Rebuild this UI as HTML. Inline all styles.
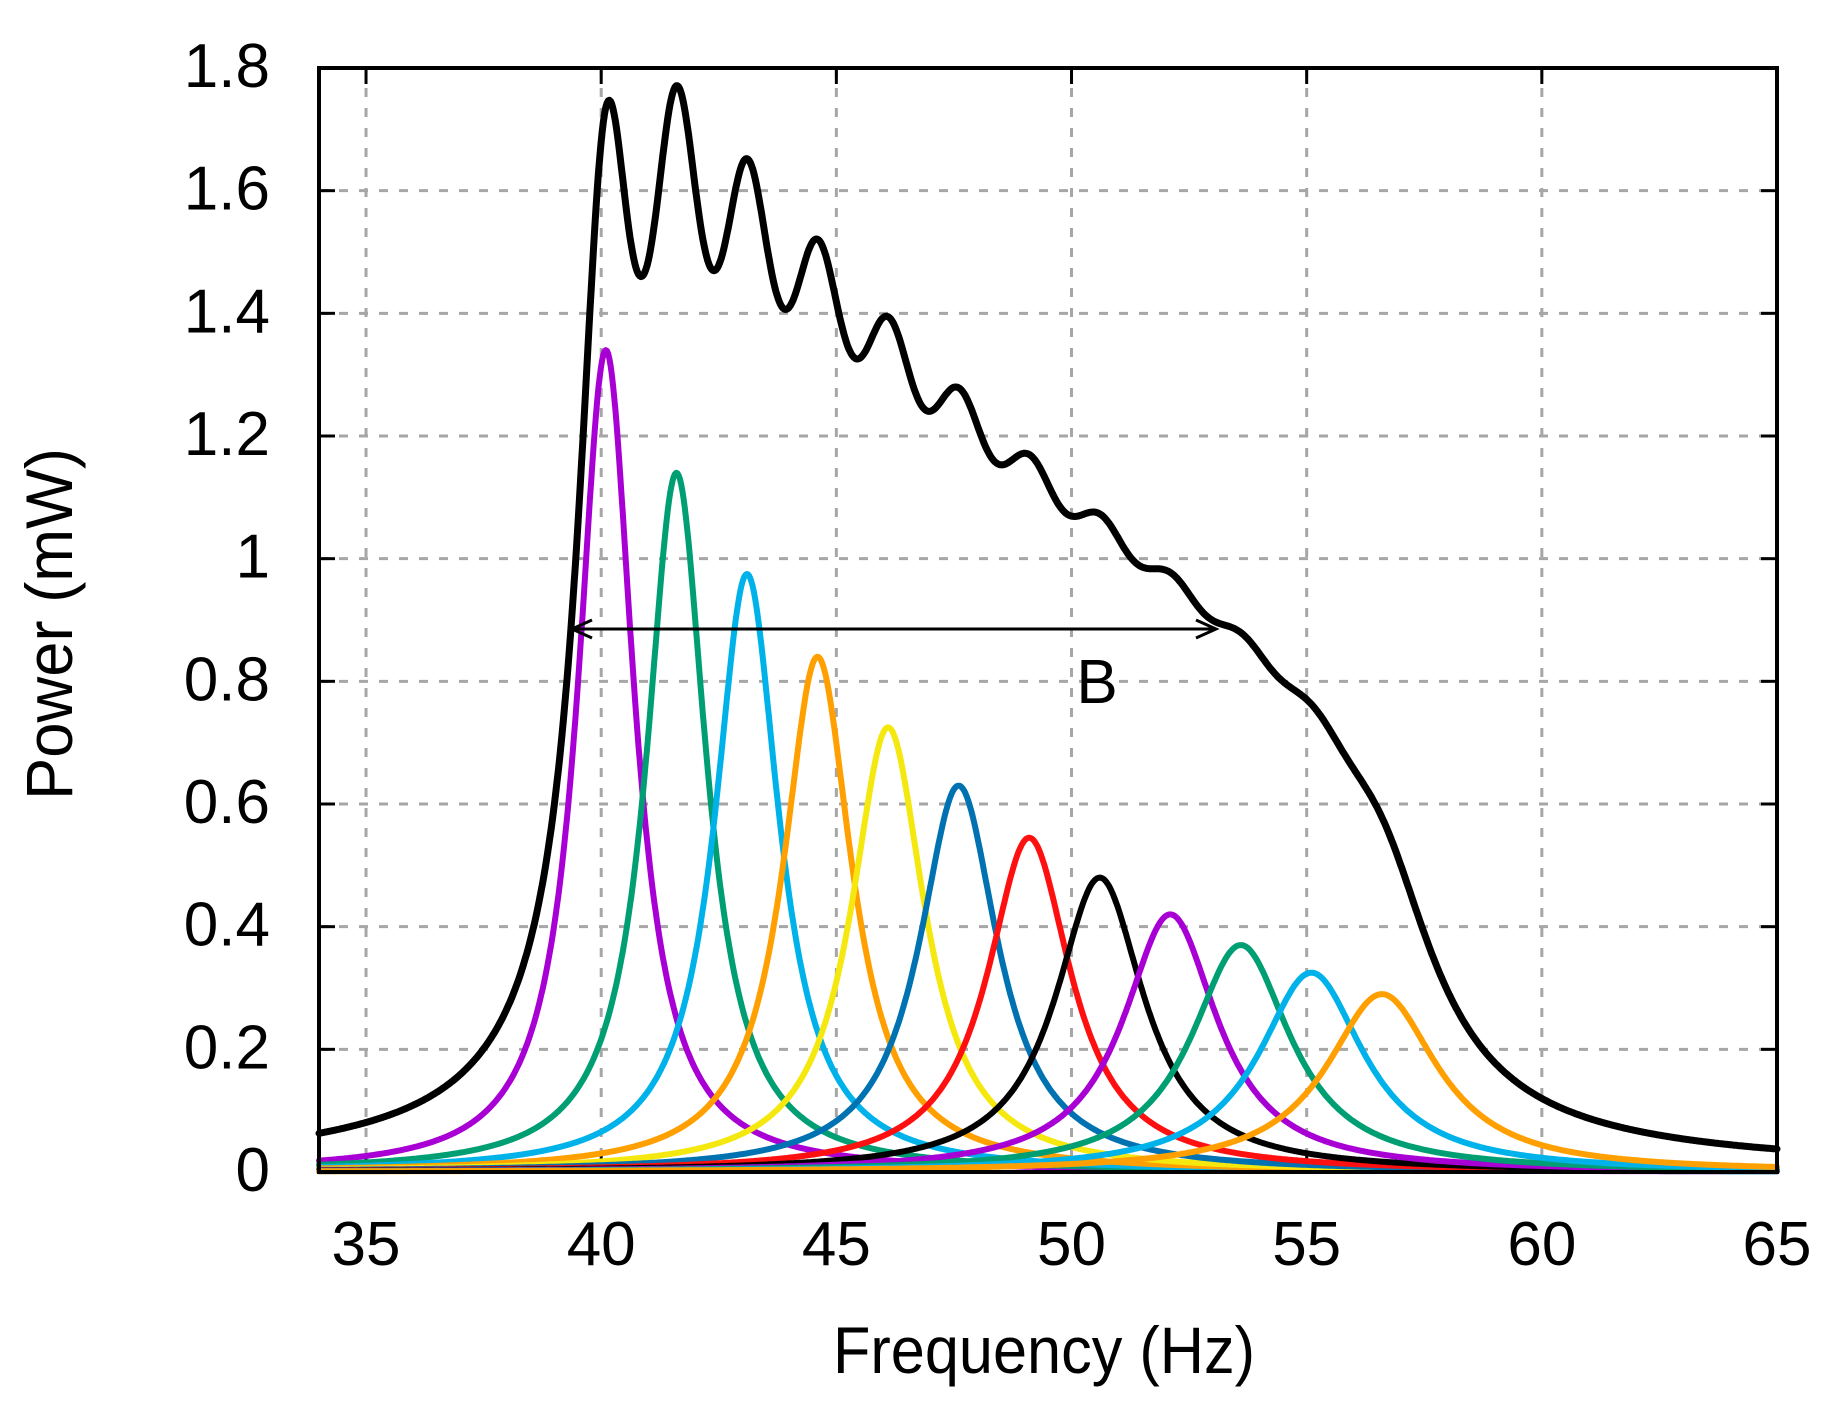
<!DOCTYPE html>
<html><head><meta charset="utf-8"><style>
html,body{margin:0;padding:0;background:#fff;}
svg{display:block;}
text{font-family:"Liberation Sans",Arial,sans-serif;fill:#000;}
</style></head><body>
<svg id="s" width="1840" height="1408" viewBox="0 0 1840 1408" xmlns="http://www.w3.org/2000/svg">
<g id="grid" stroke="#a6a6a6" stroke-width="3" stroke-dasharray="9,11" fill="none"></g>
<g id="ticks" stroke="#000" stroke-width="3"></g>
<g id="curves" fill="none" stroke-linejoin="round" stroke-linecap="round"></g>
<rect x="319" y="68" width="1458" height="1104" fill="none" stroke="#000" stroke-width="4"/>
<g id="labels" font-size="62"></g>
<line x1="572" y1="629" x2="1216" y2="629" stroke="#000" stroke-width="3"/>
<path d="M592,620 L572,629 L592,638" fill="none" stroke="#000" stroke-width="3"/>
<path d="M1196,620 L1216,629 L1196,638" fill="none" stroke="#000" stroke-width="3"/>
<text x="1097" y="703" font-size="62" text-anchor="middle">B</text>
<text x="1044" y="1373" font-size="66" text-anchor="middle" textLength="422" lengthAdjust="spacingAndGlyphs">Frequency (Hz)</text>
<text x="72" y="624" font-size="66" text-anchor="middle" transform="rotate(-90 72 624)" textLength="352" lengthAdjust="spacingAndGlyphs">Power (mW)</text>
</svg>
<script>
var NS="http://www.w3.org/2000/svg";
function X(f){return 319+(f-34)*1458/31;}
function Y(v){return 1172-v*1104/1.8;}
function el(p,t,a,txt){var e=document.createElementNS(NS,t);for(var k in a)e.setAttribute(k,a[k]);if(txt!==undefined)e.textContent=txt;document.getElementById(p).appendChild(e);}
for(var f=35;f<=60;f+=5){el("grid","line",{x1:X(f),y1:68,x2:X(f),y2:1172});
 el("ticks","line",{x1:X(f),y1:68,x2:X(f),y2:84});el("ticks","line",{x1:X(f),y1:1172,x2:X(f),y2:1156});}
for(var i=1;i<=8;i++){var v=i*0.2;el("grid","line",{x1:319,y1:Y(v),x2:1777,y2:Y(v)});
 el("ticks","line",{x1:319,y1:Y(v),x2:335,y2:Y(v)});el("ticks","line",{x1:1777,y1:Y(v),x2:1761,y2:Y(v)});}
var yl=["0","0.2","0.4","0.6","0.8","1","1.2","1.4","1.6","1.8"];
for(var i=0;i<yl.length;i++)el("labels","text",{x:270,y:Y(i*0.2)+19,"text-anchor":"end"},yl[i]);
for(var f=35;f<=65;f+=5)el("labels","text",{x:X(f),y:1265,"text-anchor":"middle"},""+f);
var peaks=[1.34,1.14,0.975,0.84,0.725,0.63,0.545,0.48,0.42,0.37,0.325,0.29];
var cols=["#a800d4","#009e73","#00b2ea","#ff9f00","#f5e80f","#0072b2","#ff1010","#000000","#a800d4","#009e73","#00b2ea","#ff9f00"];
function L(k,f){var f0=40.1+1.5*k;var g=0.72*Math.pow(f0/40.1,2.0);var d=(f-f0)/g;return peaks[k]/(1+d*d);}
var N=1200;
for(var k=0;k<12;k++){var d="";for(var j=0;j<=N;j++){var f=34+31*j/N;d+=(j?"L":"M")+X(f).toFixed(1)+","+Y(L(k,f)).toFixed(1);}
 el("curves","path",{d:d,stroke:cols[k],"stroke-width":6});}
var d="";for(var j=0;j<=N;j++){var f=34+31*j/N,s=0;for(var k=0;k<12;k++)s+=L(k,f);d+=(j?"L":"M")+X(f).toFixed(1)+","+Y(s).toFixed(1);}
el("curves","path",{d:d,stroke:"#000","stroke-width":7});
</script>
</body></html>
